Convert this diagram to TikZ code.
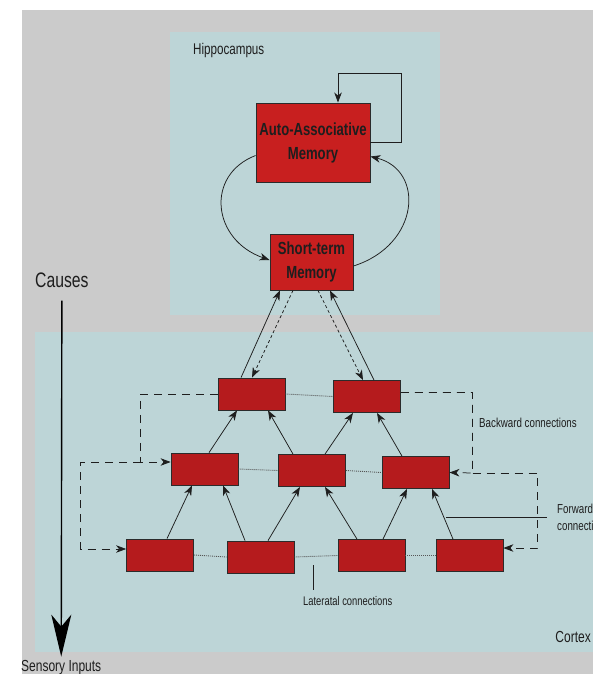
\documentclass[tikz,border=0pt]{standalone}
\usepackage{fontspec}
\setmainfont[FakeStretch=0.75]{Liberation Sans}
\usetikzlibrary{arrows.meta,calc}
\definecolor{bggray}{HTML}{CBCBCB}
\definecolor{panel}{HTML}{BDD5D7}
\definecolor{boxred}{HTML}{C81F1F}
\definecolor{boxredd}{HTML}{B51B1D}
\definecolor{edge}{HTML}{2B2B2B}
\definecolor{ink}{HTML}{1E1E1E}
\begin{document}
\begin{tikzpicture}[x=1pt,y=-1pt,
 mem/.style={draw=edge,line width=0.9pt,fill=boxred,inner sep=0pt,align=center,text=ink,font=\fontsize{17.5}{24}\selectfont\bfseries},
 unit/.style={draw=edge,line width=0.8pt,fill=boxredd,inner sep=0pt,minimum width=67pt,minimum height=32pt},
 conn/.style={draw=ink,line width=0.75pt,-{Stealth[length=10pt,width=7.5pt,inset=3pt]}},
 fb/.style={conn,dash pattern=on 3pt off 2.5pt},
 back/.style={conn,dash pattern=on 8pt off 6pt},
 lat/.style={draw=ink!75,line width=0.9pt,dash pattern=on 1pt off 1pt},
 lbl/.style={text=ink,inner sep=0pt},
 bigarr/.style={draw=black,line width=1.4pt,-{Stealth[length=42pt,width=20pt,inset=12pt]}},
]
\useasboundingbox (0,0) rectangle (593,674);
\fill[bggray] (22,10) rectangle (593,674);
\fill[panel] (170,32) rectangle (440,315);
\fill[panel] (35,332) rectangle (593,652);

% hippocampus
\node[mem,minimum width=114pt,minimum height=79pt] (aam) at (313,142.5) {Auto-Associative\\Memory};
\node[mem,minimum width=83pt,minimum height=56pt] (stm) at (311.5,262) {Short-term\\Memory};

% cortex units
\node[unit] (A) at (251.5,394) {};
\node[unit] (B) at (367,396.5) {};
\node[unit] (C) at (204.5,469) {};
\node[unit] (D) at (312,470.5) {};
\node[unit] (E) at (415.5,472.5) {};
\node[unit] (F) at (160,555) {};
\node[unit] (G) at (260.5,557) {};
\node[unit] (H) at (371.5,555.5) {};
\node[unit] (I) at (469.5,555.5) {};

% labels
\node[lbl,anchor=west,font=\fontsize{15.5}{18}\selectfont] (hip) at (193,50) {Hippocampus};
\node[lbl,anchor=west,font=\fontsize{21}{24}\selectfont] (causes) at (35,280) {Causes};
\node[lbl,anchor=base west,font=\fontsize{16}{18}\selectfont] (sens) at (21,671) {Sensory Inputs};
\node[lbl,anchor=west,font=\fontsize{13}{16}\selectfont] (bwl) at (479,423) {Backward connections};
\node[lbl,anchor=north west,align=left,font=\fontsize{13}{17}\selectfont] (fwl) at (557,504) {Forward\\connections};
\node[lbl,anchor=west,font=\fontsize{12.5}{15}\selectfont] (latl) at (303,601) {Lateratal connections};
\node[lbl,anchor=east,font=\fontsize{16}{18}\selectfont] (ctx) at (591,637) {Cortex};

% self loop
\coordinate (loop) at (401,73);
\draw[conn] (aam.east) -| (loop) -| ([xshift=25pt]aam.north);
% arcs
\draw[conn] ([yshift=-13pt]aam.west) .. controls (205,175) and (212,240) .. ([yshift=2pt]stm.west);
\draw[conn] ([yshift=-4pt]stm.east) .. controls (420,245) and (425,170) .. ([yshift=-14pt]aam.east);

% STM <-> top units
\draw[conn] ([xshift=-10.5pt]A.north) -- ([xshift=-31.5pt]stm.south);
\draw[fb] ([xshift=-18.5pt]stm.south) -- ([xshift=0.5pt]A.north);
\draw[fb] ([xshift=6.5pt]stm.south) -- ([xshift=-4pt]B.north);
\draw[conn] ([xshift=7pt]B.north) -- ([xshift=18.5pt]stm.south);

% level 2 -> level 3
\draw[conn] ([xshift=4.5pt]C.north) -- ([xshift=-14.5pt]A.south);
\draw[conn] ([xshift=-19pt]D.north) -- ([xshift=16.5pt]A.south);
\draw[conn] ([xshift=13pt]D.north) -- ([xshift=-14pt]B.south);
\draw[conn] ([xshift=-13.5pt]E.north) -- ([xshift=10pt]B.south);

% level 1 -> level 2
\draw[conn] ([xshift=7pt]F.north) -- ([xshift=-12.5pt]C.south);
\draw[conn] ([xshift=-15.5pt]G.north) -- ([xshift=18.5pt]C.south);
\draw[conn] ([xshift=7.5pt]G.north) -- ([xshift=-12pt]D.south);
\draw[conn] ([xshift=-14.5pt]H.north) -- ([xshift=13pt]D.south);
\draw[conn] ([xshift=11.5pt]H.north) -- ([xshift=-8.5pt]E.south);
\draw[conn] ([xshift=-16.5pt]I.north) -- ([xshift=16.5pt]E.south);

% lateral
\draw[lat] (A.east) -- (B.west);
\draw[lat] (C.east) -- (D.west);
\draw[lat] (D.east) -- (E.west);
\draw[lat] (F.east) -- (G.west);
\draw[lat] (G.east) -- (H.west);
\draw[lat] (H.east) -- (I.west);

% backward connections
\coordinate (bl) at (140.5,462);
\coordinate (bl2) at (80.5,462);
\draw[back] (A.west) -| (bl) -- ([yshift=7pt]C.west);
\draw[back] (bl) -- (bl2) |- ([yshift=6pt]F.west);
\coordinate (br) at (472.5,473);
\coordinate (br2) at (537.5,473);
\draw[back] ([yshift=4pt]B.east) -| (br) -- (E.east);
\draw[back] (br) -- (br2) |- ([yshift=7.5pt]I.east);

% forward label line
\coordinate (fw) at (446,517);
\draw[ink,line width=0.75pt] (fw) -- ([xshift=-10pt]fwl.west |- fw);
% lateral label line
\coordinate (lt) at (313.5,565);
\draw[ink,line width=0.75pt] (lt) -- ++(0,25);

% causes arrow
\draw[bigarr,shorten <=13pt,shorten >=3pt] (causes.south) -- (sens.north);
\end{tikzpicture}
\end{document}
